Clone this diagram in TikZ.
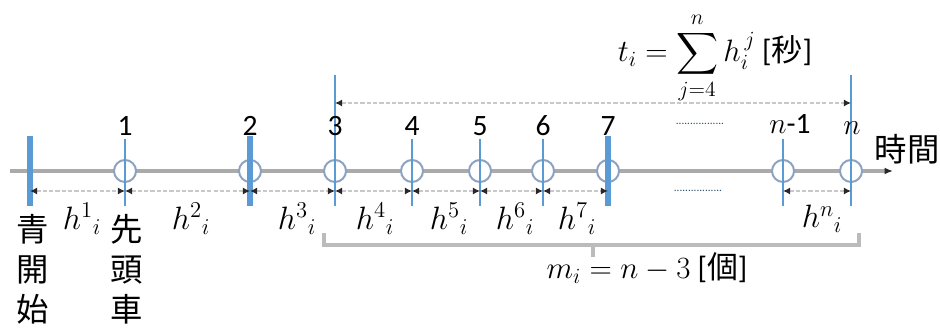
\RequirePackage{fix-cm}
\documentclass[tikz,border=0pt]{standalone}
\usepackage{amsmath}
\usepackage{fontspec}
\setmainfont{Carlito}
\newfontfamily\jpfont{Noto Sans CJK JP}
\usetikzlibrary{arrows.meta}
\definecolor{tickblue}{RGB}{91,155,213}
\definecolor{ringgray}{RGB}{140,162,192}
\definecolor{axisgray}{RGB}{170,170,170}
\definecolor{dimgray}{RGB}{200,200,200}
\definecolor{tipdark}{RGB}{40,40,40}
\tikzset{
  axisline/.style={line width=2.2pt, draw=axisgray,
                   -{Latex[length=6pt, width=5pt, color=tipdark]}},
  ring/.style={circle, draw=ringgray, line width=1.4pt, fill=white,
               minimum size=0.55cm, inner sep=0pt},
  thickline/.style={draw=tickblue, line width=4.5pt},
  thinline/.style={draw=tickblue, line width=2pt},
  dimarrow/.style={draw=dimgray, line width=1.3pt, dash pattern=on 3pt off 1.5pt,
                   {Latex[length=5pt, width=5pt, color=tipdark]}-{Latex[length=5pt, width=5pt, color=tipdark]}},
  bracket/.style={draw=axisgray!80, line width=2.2pt},
  jp/.style={font=\jpfont\fontsize{23}{28.5}\selectfont, inner sep=0pt},
  numlabel/.style={inner sep=0pt},
  hlabel/.style={inner sep=0pt, font=\fontsize{23}{27}\selectfont},
  formula/.style={inner sep=0pt, font=\fontsize{22}{26}\selectfont},
  dotrow/.style={font=\fontsize{8}{8}\selectfont, inner sep=0pt, text=tickblue!50!black},
}
\begin{document}
\begin{tikzpicture}[x=0.025cm, y=-0.025cm, font=\fontsize{21}{25}\selectfont]
  \useasboundingbox (0,0) rectangle (940,333);

  % time axis
  \coordinate (ax0) at (10,171);
  \coordinate (ax1) at (893,171);
  \draw[axisline] (ax0) -- (ax1);
  \node[jp] (time) at (907,149) {時間};

  % cars on the axis
  \foreach \n/\x in {1/125,2/250,3/335,4/412,5/480,6/543,7/608,m/783,n/851}
    \node[ring] (c\n) at (\x,171) {};

  % tick lines
  \foreach \n/\x/\t/\s in {0/30/136/thickline, 1/125/139/thinline, 2/250/136/thickline,
      3/335/75/thinline, 4/412/139/thinline, 5/480/139/thinline, 6/543/139/thinline,
      7/608/136/thickline, m/783/139/thinline, n/851/75/thinline}{
    \coordinate (t\n) at (\x,\t);
    \coordinate (b\n) at (\x,206);
    \coordinate (d\n) at (\x,191);
    \draw[\s] (t\n) -- (b\n);
  }

  % car numbers
  \foreach \n/\x in {1/125,2/250,3/335,4/412,5/480,6/543,7/608}
    \node[numlabel] (l\n) at (\x,126) {\n};
  \node[numlabel] (lm) at (790,124) {$n$-1};
  \node[numlabel] (ln) at (852,128) {$n$};
  \node[dotrow] (dotsA) at (700,124) {.................};

  % headways
  \foreach \a/\b in {0/1,1/2,2/3,3/4,4/5,5/6,6/7,m/n}
    \draw[dimarrow] (d\a) -- (d\b);
  \node[dotrow] (dotsB) at (698,191) {.................};
  \foreach \k/\x in {1/82,2/191,3/297,4/375,5/449,6/515,7/577,n/822}
    \node[hlabel] (h\k) at (\x,219) {$h^{\k}{}_{i}$};

  \node[jp, align=center, anchor=north] (green) at (33,214) {青\\開\\始};
  \node[jp, align=center, anchor=north] (head) at (127,214) {先\\頭\\車};

  % waiting time
  \coordinate (u3) at (335,103);
  \coordinate (un) at (851,103);
  \draw[dimarrow] (u3) -- (un);
  \node[formula] (tform) at (715,58) {$\displaystyle t_i = \sum_{j=4}^{n} h_i^{\,j}$ [{\jpfont 秒}]};

  % queue length
  \coordinate (brL) at (324,233);
  \coordinate (brR) at (859,233);
  \coordinate (brM) at (593,245);
  \coordinate (brT) at (593,257);
  \draw[bracket] (brL) |- (brM) -| (brR);
  \draw[bracket] (brM) -- (brT);
  \node[formula] (mform) at (647,268) {$m_i = n - 3$ [{\jpfont 個}]};
\end{tikzpicture}
\end{document}
